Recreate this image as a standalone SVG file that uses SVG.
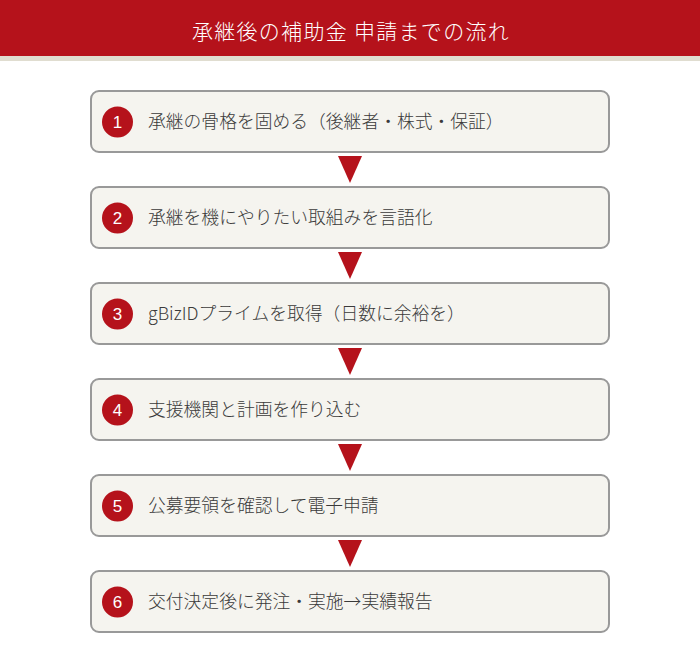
<svg xmlns="http://www.w3.org/2000/svg" width="700" height="662" viewBox="0 0 700 662">
<defs>
<style>
.box{fill:#f5f4ef;stroke:#999999;stroke-width:2}
.num{fill:#b5121b}
.nt{fill:#ffffff;font-family:"Liberation Sans","Noto Sans",sans-serif;font-size:17px;text-anchor:middle}
.lbl{fill:#3a3a3a;font-family:"Noto Sans CJK JP","Noto Sans CJK SC",sans-serif;font-size:17.8px;font-weight:300}
.arr{fill:#b5121b}
.title{fill:#ffffff;font-family:"Noto Sans CJK JP","Noto Sans CJK SC",sans-serif;font-size:21px;font-weight:300;letter-spacing:1.3px;text-anchor:middle}
</style>
</defs>
<rect x="0" y="0" width="700" height="662" fill="#ffffff"/>
<g id="header">
<rect x="0" y="0" width="700" height="56" fill="#b5121b"/>
<rect x="0" y="56" width="700" height="5" fill="#e0ddd0"/>
<text class="title" x="351" y="39">承継後の補助金 申請までの流れ</text>
</g>
<g id="connectors">
<polygon class="arr" points="338,156 362,156 350,183"/>
<polygon class="arr" points="338,252 362,252 350,279"/>
<polygon class="arr" points="338,348 362,348 350,375"/>
<polygon class="arr" points="338,444 362,444 350,471"/>
<polygon class="arr" points="338,540 362,540 350,567"/>
</g>
<g id="step1">
<rect class="box" x="91" y="91" width="518" height="61" rx="8"/>
<circle class="num" cx="117.5" cy="122" r="15.5"/>
<text class="nt" x="117.5" y="128">1</text>
<text class="lbl" x="148" y="128">承継の骨格を固める（後継者・株式・保証）</text>
</g>
<g id="step2">
<rect class="box" x="91" y="187" width="518" height="61" rx="8"/>
<circle class="num" cx="117.5" cy="218" r="15.5"/>
<text class="nt" x="117.5" y="224">2</text>
<text class="lbl" x="148" y="224">承継を機にやりたい取組みを言語化</text>
</g>
<g id="step3">
<rect class="box" x="91" y="283" width="518" height="61" rx="8"/>
<circle class="num" cx="117.5" cy="314" r="15.5"/>
<text class="nt" x="117.5" y="320">3</text>
<text class="lbl" x="148" y="320">gBizIDプライムを取得（日数に余裕を）</text>
</g>
<g id="step4">
<rect class="box" x="91" y="379" width="518" height="61" rx="8"/>
<circle class="num" cx="117.5" cy="410" r="15.5"/>
<text class="nt" x="117.5" y="416">4</text>
<text class="lbl" x="148" y="416">支援機関と計画を作り込む</text>
</g>
<g id="step5">
<rect class="box" x="91" y="475" width="518" height="61" rx="8"/>
<circle class="num" cx="117.5" cy="506" r="15.5"/>
<text class="nt" x="117.5" y="512">5</text>
<text class="lbl" x="148" y="512">公募要領を確認して電子申請</text>
</g>
<g id="step6">
<rect class="box" x="91" y="571" width="518" height="61" rx="8"/>
<circle class="num" cx="117.5" cy="602" r="15.5"/>
<text class="nt" x="117.5" y="608">6</text>
<text class="lbl" x="148" y="608">交付決定後に発注・実施→実績報告</text>
</g>
</svg>
